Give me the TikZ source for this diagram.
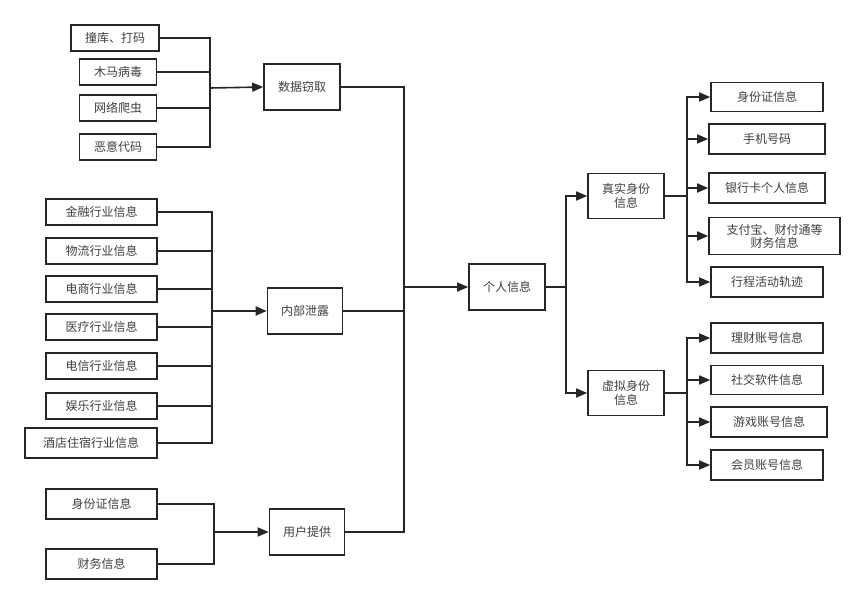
\documentclass[tikz,border=0pt]{standalone}
\usepackage{fontspec}
\setmainfont{Noto Sans CJK SC}
\usetikzlibrary{arrows.meta}
\begin{document}
\begin{tikzpicture}[x=1pt,y=-1pt,
 box/.style={draw=black!85,line width=1.6pt,minimum height=26pt,inner sep=2pt,align=center,font=\fontsize{12}{14}\selectfont,text=black!75},
 ln/.style={draw=black!85,line width=1.6pt},
 ar/.style={ln,-{Triangle[length=11pt,width=9pt]}}]
\useasboundingbox[fill=white] (0,0) rectangle (865,606);
% group 1
\node[box,minimum width=88pt] (a1) at (115,38) {撞库、打码};
\node[box,minimum width=77pt] (a2) at (118,72) {木马病毒};
\node[box,minimum width=77pt] (a3) at (118,108) {网络爬虫};
\node[box,minimum width=77pt] (a4) at (118,147) {恶意代码};
\node[box,minimum width=76pt,minimum height=46pt] (A) at (302,87) {数据窃取};
\coordinate (ba) at (210,88);
\foreach \n in {a1,a2,a3,a4} \draw[ln] (\n.east) -| (ba);
\draw[ar] (ba) -- (A.west);
% group 2
\foreach \n/\y/\t in {b1/212/金融行业信息,b2/251/物流行业信息,b3/289/电商行业信息,b4/327/医疗行业信息,b5/366/电信行业信息,b6/406/娱乐行业信息}
 \node[box,minimum width=111pt] (\n) at (101.5,\y) {\t};
\node[box,minimum width=132pt,minimum height=30pt] (b7) at (91,443) {酒店住宿行业信息};
\node[box,minimum width=75pt,minimum height=46pt] (B) at (305,311) {内部泄露};
\coordinate (bb) at (212,311);
\foreach \n in {b1,b2,b3,b4,b5,b6,b7} \draw[ln] (\n.east) -| (bb);
\draw[ar] (bb) -- (B.west);
% group 3
\node[box,minimum width=111pt,minimum height=30pt] (c1) at (101.5,504) {身份证信息};
\node[box,minimum width=111pt,minimum height=30pt] (c2) at (101.5,564) {财务信息};
\node[box,minimum width=75pt,minimum height=46pt] (C) at (307,532) {用户提供};
\coordinate (bc) at (214,532);
\foreach \n in {c1,c2} \draw[ln] (\n.east) -| (bc);
\draw[ar] (bc) -- (C.west);
% center
\node[box,minimum width=76pt,minimum height=46pt] (P) at (507,287) {个人信息};
\coordinate (bp) at (404,287);
\foreach \n in {A,B,C} \draw[ln] (\n.east) -| (bp);
\draw[ar] (bp) -- (P.west);
% right
\node[box,minimum width=76pt,minimum height=45pt] (R) at (626,196) {真实身份\\信息};
\node[box,minimum width=76pt,minimum height=45pt] (V) at (626,393) {虚拟身份\\信息};
\coordinate (bpr) at (566,287);
\draw[ln] (P.east) -- (bpr);
\draw[ar] (bpr) |- (R.west);
\draw[ar] (bpr) |- (V.west);
\node[box,minimum width=112pt,minimum height=29pt] (r1) at (767,97) {身份证信息};
\node[box,minimum width=116pt,minimum height=30pt] (r2) at (767,139) {手机号码};
\node[box,minimum width=116pt,minimum height=30pt] (r3) at (767,188) {银行卡个人信息};
\node[box,minimum width=131pt,minimum height=37pt,inner sep=1pt,font=\fontsize{12}{13}\selectfont] (r4) at (774.5,236) {支付宝、财付通等\\财务信息};
\node[box,minimum width=112pt,minimum height=30pt] (r5) at (767,282) {行程活动轨迹};
\coordinate (br) at (687,196);
\draw[ln] (R.east) -- (br);
\foreach \n in {r1,r2,r3,r4,r5} \draw[ar] (br) |- (\n.west);
\node[box,minimum width=112pt,minimum height=30pt] (v1) at (767,338) {理财账号信息};
\node[box,minimum width=112pt,minimum height=29pt] (v2) at (767,380) {社交软件信息};
\node[box,minimum width=116pt,minimum height=30pt] (v3) at (769,422) {游戏账号信息};
\node[box,minimum width=112pt,minimum height=30pt] (v4) at (767,465) {会员账号信息};
\coordinate (bv) at (687,393);
\draw[ln] (V.east) -- (bv);
\foreach \n in {v1,v2,v3,v4} \draw[ar] (bv) |- (\n.west);
\end{tikzpicture}
\end{document}
